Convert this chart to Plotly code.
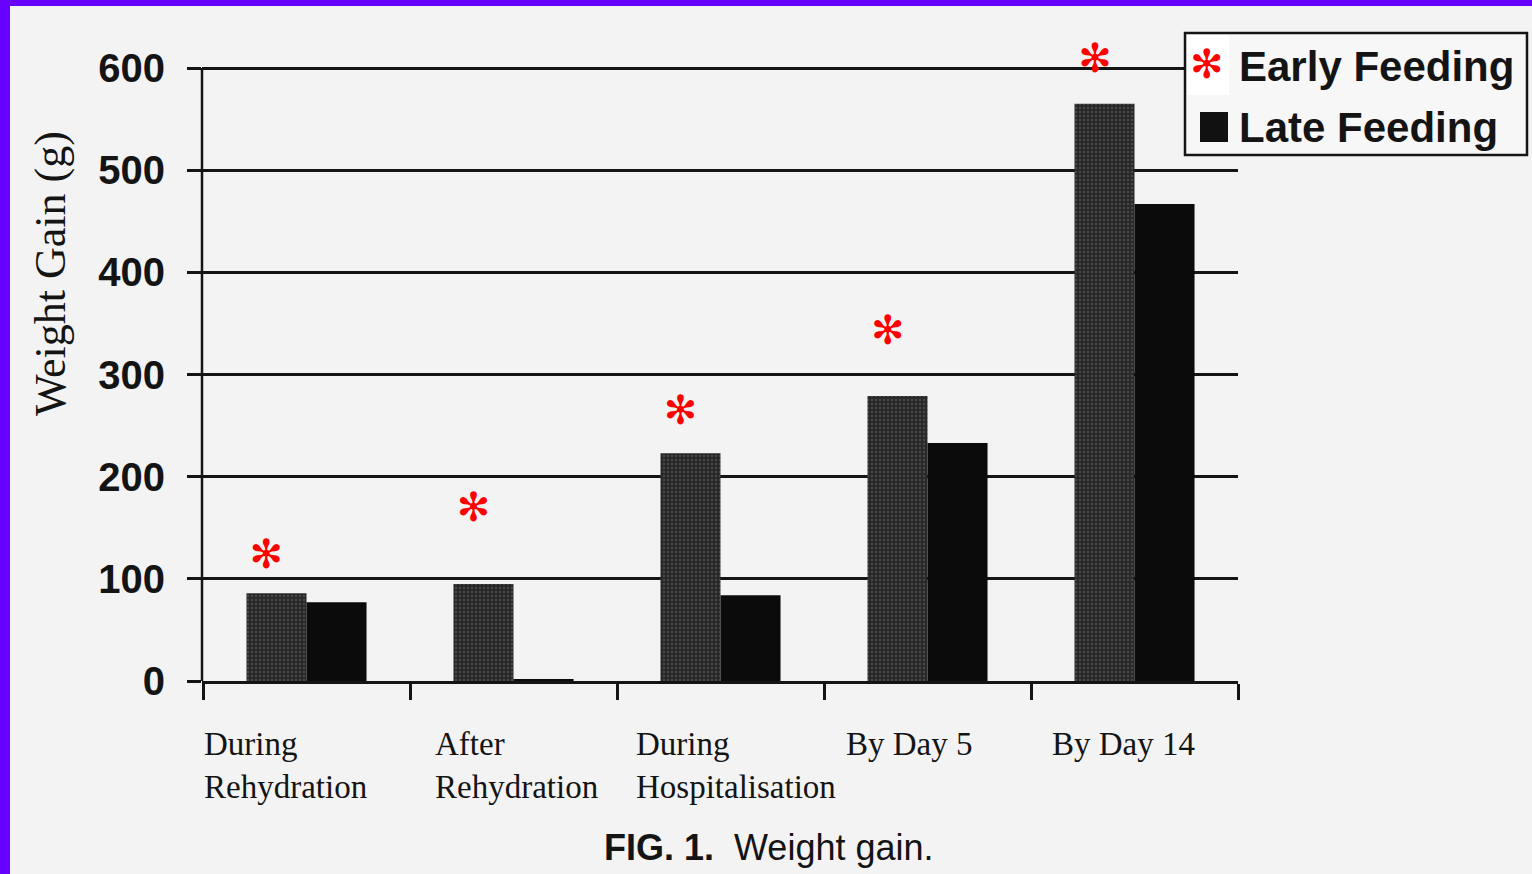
import plotly.graph_objects as go

# ---------------- data ----------------
categories = ["During Rehydration", "After Rehydration", "During Hospitalisation", "By Day 5", "By Day 14"]
category_labels = ["During<br>Rehydration", "After<br>Rehydration", "During<br>Hospitalisation", "By Day 5", "By Day 14"]
early_feeding = [86, 95, 223, 279, 565]
late_feeding = [77, 2, 84, 233, 467]
asterisk_y = [120, 166, 261, 340, 606]   # significance markers above Early Feeding bars
y_ticks = [0, 100, 200, 300, 400, 500, 600]

# ---------------- layout geometry ----------------
W, H = 1532, 874
ML, MR, MB = 202, 294, 193
PX_PER_UNIT = 613 / 600
MT = 42
PW, PH = W - ML - MR, H - MT - MB
Y_MAX = PH / PX_PER_UNIT
label_xshift = [-21, 3, 15, -18, -11]


def fx(x):
    return (x - ML) / PW


def fy(y):
    return (H - MB - y) / PH


INK = "#141414"
BG = "#f3f3f3"
PURPLE = "#6600ff"
RED = "#ff0000"

fig = go.Figure()

fig.add_trace(go.Bar(
    x=categories, y=early_feeding, name="Early Feeding",
    marker=dict(color="#2c2c2c", line=dict(width=0),
                pattern=dict(shape=".", fgcolor="#666666", bgcolor="#282828", size=4, solidity=0.3)),
    showlegend=False,
))
fig.add_trace(go.Bar(
    x=categories, y=late_feeding, name="Late Feeding",
    marker=dict(color="#0b0b0b", line=dict(width=0)),
    showlegend=False,
))

# asterisks on an overlaid numeric axis, offset to the Early bar
early_offset = -0.19
fig.add_trace(go.Scatter(
    x=[i + early_offset for i in range(len(categories))], y=asterisk_y,
    xaxis="x2", mode="text", text=["✻"] * len(categories),
    textposition="middle center",
    textfont=dict(color=RED, size=40, family="DejaVu Sans"),
    cliponaxis=False, showlegend=False, hoverinfo="skip",
))

shapes = [
    # y axis line, from 0 to 600 only
    dict(type="line", xref="paper", yref="y", x0=0, x1=0, y0=0, y1=600,
         line=dict(color=INK, width=2.5)),
    dict(type="rect", xref="paper", yref="paper", x0=fx(0), x1=fx(10), y0=fy(H), y1=fy(0),
         fillcolor=PURPLE, line=dict(width=0)),
    dict(type="rect", xref="paper", yref="paper", x0=fx(0), x1=fx(W), y0=fy(6), y1=fy(0),
         fillcolor=PURPLE, line=dict(width=0)),
    # legend box
    dict(type="rect", xref="paper", yref="paper", x0=fx(1185), x1=fx(1527), y0=fy(155), y1=fy(33),
         fillcolor="#f7f7f7", line=dict(color=INK, width=2.5)),
    dict(type="rect", xref="paper", yref="paper", x0=fx(1187), x1=fx(1229), y0=fy(95), y1=fy(35),
         fillcolor="#ffffff", line=dict(width=0)),
    dict(type="rect", xref="paper", yref="paper", x0=fx(1200), x1=fx(1228), y0=fy(142), y1=fy(112),
         fillcolor="#111111", line=dict(width=0)),
]

annotations = [
    dict(text="✻", xref="paper", yref="paper", x=fx(1207), y=fy(64), showarrow=False,
         font=dict(color=RED, size=40, family="DejaVu Sans"), xanchor="center", yanchor="middle"),
    dict(text="Early Feeding", xref="paper", yref="paper", x=fx(1237), y=fy(66), showarrow=False,
         font=dict(color=INK, size=42, family="Liberation Sans", weight="bold"),
         xanchor="left", yanchor="middle"),
    dict(text="Late Feeding", xref="paper", yref="paper", x=fx(1237), y=fy(127), showarrow=False,
         font=dict(color=INK, size=42, family="Liberation Sans", weight="bold"),
         xanchor="left", yanchor="middle"),
    dict(text="Weight Gain (g)", xref="paper", yref="paper", x=fx(50), y=fy(274), showarrow=False,
         textangle=-90, font=dict(color=INK, size=44, family="Liberation Serif"),
         xanchor="center", yanchor="middle"),
    dict(text="<b>FIG. 1.</b>  Weight gain.", xref="paper", yref="paper", x=fx(769), y=fy(847),
         showarrow=False, font=dict(color=INK, size=36, family="Liberation Sans"),
         xanchor="center", yanchor="middle"),
]
for cat, lab, dx in zip(categories, category_labels, label_xshift):
    annotations.append(dict(text=lab, xref="x", yref="paper", x=cat, y=fy(724), showarrow=False,
                            align="left", xanchor="center", yanchor="top", xshift=dx,
                            font=dict(color=INK, size=33, family="Liberation Serif")))

fig.update_layout(
    width=W, height=H,
    margin=dict(l=ML, r=MR, t=MT, b=MB, pad=0),
    paper_bgcolor=BG, plot_bgcolor=BG,
    barmode="group", bargap=0.42, bargroupgap=0,
    showlegend=False,
    xaxis=dict(type="category", showgrid=False, showline=True, linecolor=INK, linewidth=2.5,
               ticks="outside", tickson="boundaries", ticklen=16, tickwidth=2.5, tickcolor=INK,
               showticklabels=False, zeroline=False),
    xaxis2=dict(overlaying="x", range=[-0.5, len(categories) - 0.5], visible=False),
    yaxis=dict(range=[0, Y_MAX], tickvals=y_ticks, showgrid=True, gridcolor=INK, gridwidth=2.5,
               showline=False, zeroline=False,
               ticks="outside", ticklen=14, tickwidth=2.5, tickcolor=INK, ticklabelstandoff=14,
               tickfont=dict(color=INK, size=40, family="Liberation Sans", weight="bold")),
    shapes=shapes, annotations=annotations,
)

fig.write_html("out.html", config={"displayModeBar": False},
               post_script="document.body.style.margin='0';document.body.style.overflow='hidden';")
